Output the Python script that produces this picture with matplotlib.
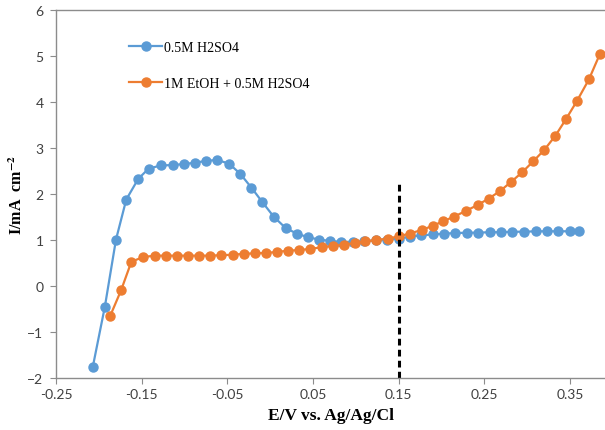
import matplotlib
matplotlib.use("Agg")
import matplotlib.pyplot as plt

plt.rcParams['mathtext.fontset'] = 'stix'

# 0.5M H2SO4 (blue)
e_acid = [-0.207, -0.193, -0.180, -0.168, -0.154, -0.142, -0.128, -0.114, -0.101, -0.088,
          -0.075, -0.062, -0.048, -0.035, -0.022, -0.009, 0.004, 0.018, 0.031, 0.044,
          0.057, 0.070, 0.083, 0.097, 0.110, 0.124, 0.136, 0.150, 0.163, 0.176,
          0.190, 0.203, 0.216, 0.230, 0.243, 0.256, 0.269, 0.282, 0.296, 0.310,
          0.323, 0.336, 0.350, 0.361]
i_acid = [-1.75, -0.45, 1.01, 1.88, 2.33, 2.55, 2.62, 2.63, 2.65, 2.68,
          2.72, 2.74, 2.66, 2.44, 2.14, 1.82, 1.51, 1.26, 1.14, 1.06,
          1.01, 0.98, 0.96, 0.96, 0.97, 1.00, 1.01, 1.03, 1.07, 1.10,
          1.12, 1.14, 1.15, 1.16, 1.16, 1.17, 1.17, 1.18, 1.18, 1.19,
          1.19, 1.19, 1.19, 1.20]

# 1M EtOH + 0.5M H2SO4 (orange)
e_etoh = [-0.187, -0.174, -0.162, -0.148, -0.135, -0.122, -0.109, -0.096, -0.083, -0.070,
          -0.057, -0.044, -0.031, -0.018, -0.005, 0.008, 0.021, 0.034, 0.047, 0.060,
          0.073, 0.086, 0.099, 0.111, 0.124, 0.137, 0.150, 0.163, 0.177, 0.190,
          0.202, 0.215, 0.228, 0.242, 0.255, 0.268, 0.281, 0.294, 0.307, 0.320,
          0.333, 0.345, 0.358, 0.372, 0.385]
i_etoh = [-0.66, -0.09, 0.53, 0.63, 0.66, 0.66, 0.66, 0.66, 0.66, 0.66,
          0.67, 0.68, 0.70, 0.71, 0.72, 0.74, 0.77, 0.78, 0.81, 0.84,
          0.87, 0.90, 0.93, 0.97, 1.00, 1.03, 1.08, 1.14, 1.22, 1.31,
          1.41, 1.51, 1.63, 1.76, 1.90, 2.06, 2.26, 2.47, 2.71, 2.96,
          3.27, 3.62, 4.02, 4.49, 5.05]

x_ticks = [-0.25, -0.15, -0.05, 0.05, 0.15, 0.25, 0.35]
y_ticks = [-2, -1, 0, 1, 2, 3, 4, 5, 6]
marker_e = 0.15
marker_top = 2.25

fig = plt.figure(figsize=(6.05, 4.31), dpi=100)
ax = fig.add_axes([0.0926, 0.1206, 0.9074, 0.8539])

ax.plot(e_acid, i_acid, color='#5B9BD5', marker='o', markersize=6.5, linewidth=1.6,
        label='0.5M H2SO4')
ax.plot(e_etoh, i_etoh, color='#ED7D31', marker='o', markersize=6.5, linewidth=1.6,
        label='1M EtOH + 0.5M H2SO4')
ax.plot([marker_e, marker_e], [-2, marker_top], color='black', linestyle='--',
        linewidth=2.2, dashes=(2.2, 1.4))

ax.set_xlim(-0.25, 0.3908)
ax.set_ylim(-2, 6)
ax.set_xticks(x_ticks)
ax.set_xticklabels([f'{v:.2f}' for v in x_ticks])
ax.set_yticks(y_ticks)

for s in ['left', 'bottom', 'top']:
    ax.spines[s].set_color('#8c8c8c')
    ax.spines[s].set_linewidth(1.0)
ax.spines['right'].set_visible(False)
ax.tick_params(direction='out', length=4, color='#8c8c8c', labelsize=10,
               labelcolor='#404040')
ax.tick_params(axis='y', pad=5)
for lab in ax.get_xticklabels() + ax.get_yticklabels():
    lab.set_family('Lato')

ax.set_xlabel('E/V vs. Ag/Ag/Cl', family='Liberation Serif', fontweight='bold',
              fontsize=12.5, labelpad=5)
ax.set_ylabel(r'I/mA  cm$^{\mathbf{-2}}$', family='Liberation Serif', fontweight='bold',
              fontsize=11.5, labelpad=1)

leg = ax.legend(loc='upper left', bbox_to_anchor=(0.11, 0.95), frameon=False,
                prop={'family': 'Liberation Serif', 'size': 10},
                handlelength=2.4, labelspacing=1.65, handletextpad=0.1)

fig.savefig('out.png', dpi=100)
